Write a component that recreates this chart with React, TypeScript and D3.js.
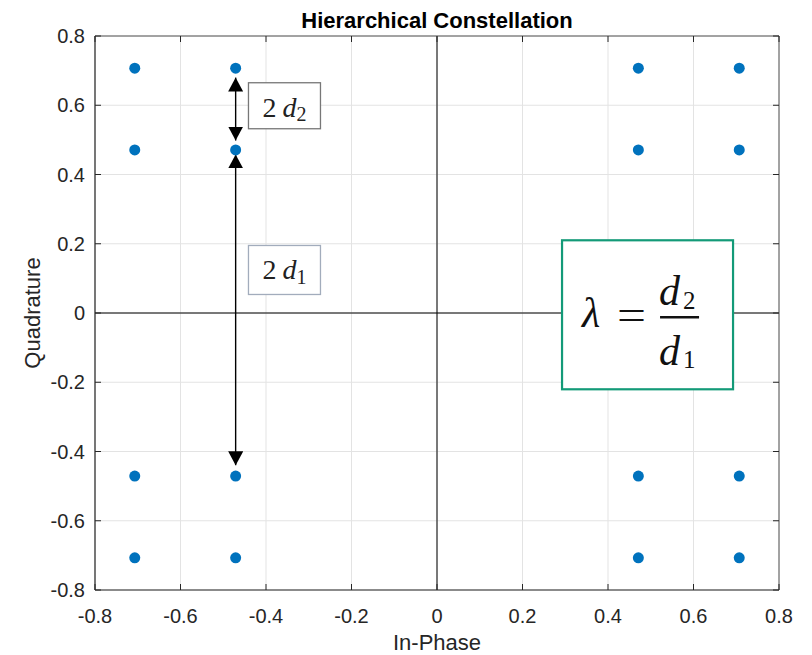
import * as d3 from 'd3'

// constellation coordinates (16-QAM hierarchical)
const iValues = [-0.707, -0.471, 0.471, 0.707]
const qValues = [-0.707, -0.471, 0.471, 0.707]
const xTicks = [-0.8, -0.6, -0.4, -0.2, 0, 0.2, 0.4, 0.6, 0.8]
const yTicks = [-0.8, -0.6, -0.4, -0.2, 0, 0.2, 0.4, 0.6, 0.8]
// arrows: [x, yFrom, yTo]
const arrows = [
    [-0.471, 0.68, 0.498],
    [-0.471, 0.458, -0.44],
]

const serif = "'Liberation Serif', 'DejaVu Serif', serif"

const App = () => {
    const svgWidth = 812
    const svgHeight = 655
    const margin = { left: 95, right: 33, top: 36, bottom: 65 }
    const width = svgWidth - margin.left - margin.right
    const height = svgHeight - margin.top - margin.bottom

    const x = d3.scaleLinear().domain([-0.8, 0.8]).range([0, width])
    const y = d3.scaleLinear().domain([-0.8, 0.8]).range([height, 0])

    const points = iValues.flatMap(i => qValues.map(q => ({ i, q })))
    const tickLen = 6

    return (
        <svg width={svgWidth} height={svgHeight}
            style={{ position: 'absolute', left: 0, top: 0, background: '#fff' }}
            fontFamily="Arial, 'Liberation Sans', sans-serif">
            <defs>
                <marker id="head" viewBox="0 0 14 15" refX="14" refY="7.5"
                    markerWidth="14" markerHeight="15" markerUnits="userSpaceOnUse"
                    orient="auto-start-reverse">
                    <path d="M0,0 L14,7.5 L0,15 z" fill="#000" />
                </marker>
            </defs>
            <text x={margin.left + width / 2} y={28} textAnchor="middle"
                fontSize={22} fontWeight="bold" fill="#000">Hierarchical Constellation</text>
            <g transform={`translate(${margin.left},${margin.top})`}>
                {xTicks.map((t, k) => (
                    <line key={'gx' + k} x1={x(t)} x2={x(t)} y1={0} y2={height}
                        stroke="#e3e3e3" strokeWidth={1} />
                ))}
                {yTicks.map((t, k) => (
                    <line key={'gy' + k} x1={0} x2={width} y1={y(t)} y2={y(t)}
                        stroke="#e3e3e3" strokeWidth={1} />
                ))}
                <line x1={x(0)} x2={x(0)} y1={0} y2={height} stroke="#000" strokeWidth={1} />
                <line x1={0} x2={width} y1={y(0)} y2={y(0)} stroke="#000" strokeWidth={1} />

                {arrows.map((a, k) => (
                    <line key={'ar' + k} x1={x(a[0])} x2={x(a[0])} y1={y(a[1])} y2={y(a[2])}
                        stroke="#000" strokeWidth={1.4}
                        markerStart="url(#head)" markerEnd="url(#head)" />
                ))}

                {points.map((p, k) => (
                    <circle key={'p' + k} cx={x(p.i)} cy={y(p.q)} r={5.5} fill="#0072BD" />
                ))}

                {/* annotation boxes */}
                <g transform={`translate(${x(-0.441)},${y(0.665)})`}>
                    <rect x={0} y={0} width={72} height={46} fill="#fff" stroke="#777" strokeWidth={1.3} />
                    <text x={14} y={34} fontFamily={serif} fontSize={28} fill="#222">
                        2<tspan dx={6} fontStyle="italic">d</tspan><tspan fontSize={20} dy={4}>2</tspan>
                    </text>
                </g>
                <g transform={`translate(${x(-0.441)},${y(0.195)})`}>
                    <rect x={0} y={0} width={72} height={49} fill="#fff" stroke="#a2acbc" strokeWidth={1.3} />
                    <text x={14} y={34} fontFamily={serif} fontSize={28} fill="#222">
                        2<tspan dx={6} fontStyle="italic">d</tspan><tspan fontSize={20} dy={5}>1</tspan>
                    </text>
                </g>
                <g transform={`translate(${x(0.2925)},${y(0.21)})`}>
                    <rect x={0} y={0} width={171} height={149} fill="#fff" stroke="#139a78" strokeWidth={2.2} />
                    <g fontFamily={serif} fill="#111">
                        <text x={20} y={87} fontSize={42} fontStyle="italic">λ</text>
                        <text x={55} y={89} fontSize={42} textLength={29} lengthAdjust="spacingAndGlyphs">=</text>
                        <text x={97} y={65} fontSize={42} fontStyle="italic">d</text>
                        <text x={121} y={69} fontSize={25}>2</text>
                        <line x1={98} x2={137} y1={77} y2={77} stroke="#111" strokeWidth={2.4} />
                        <text x={97} y={125} fontSize={42} fontStyle="italic">d</text>
                        <text x={121} y={128} fontSize={25}>1</text>
                    </g>
                </g>

                {/* axes box */}
                <line x1={0} x2={width} y1={0} y2={0} stroke="#555" strokeWidth={1} />
                <line x1={width} x2={width} y1={0} y2={height} stroke="#555" strokeWidth={1} />
                <line x1={0} x2={width} y1={height} y2={height} stroke="#262626" strokeWidth={1.2} />
                <line x1={0} x2={0} y1={0} y2={height} stroke="#262626" strokeWidth={1.2} />
                {xTicks.map((t, k) => (
                    <g key={'tx' + k}>
                        <line x1={x(t)} x2={x(t)} y1={height} y2={height - tickLen} stroke="#262626" />
                        <line x1={x(t)} x2={x(t)} y1={0} y2={tickLen} stroke="#262626" />
                        <text x={x(t)} y={height + 33} textAnchor="middle" fontSize={20} fill="#262626">{t}</text>
                    </g>
                ))}
                {yTicks.map((t, k) => (
                    <g key={'ty' + k}>
                        <line x1={0} x2={tickLen} y1={y(t)} y2={y(t)} stroke="#262626" />
                        <line x1={width} x2={width - tickLen} y1={y(t)} y2={y(t)} stroke="#262626" />
                        <text x={-10} y={y(t) + 7} textAnchor="end" fontSize={20} fill="#262626">{t}</text>
                    </g>
                ))}
                <text x={width / 2} y={height + 60} textAnchor="middle" fontSize={22} fill="#262626">In-Phase</text>
                <text transform={`translate(${-55},${height / 2}) rotate(-90)`} textAnchor="middle"
                    fontSize={22} fill="#262626">Quadrature</text>
            </g>
        </svg>
    )
}

export default App
